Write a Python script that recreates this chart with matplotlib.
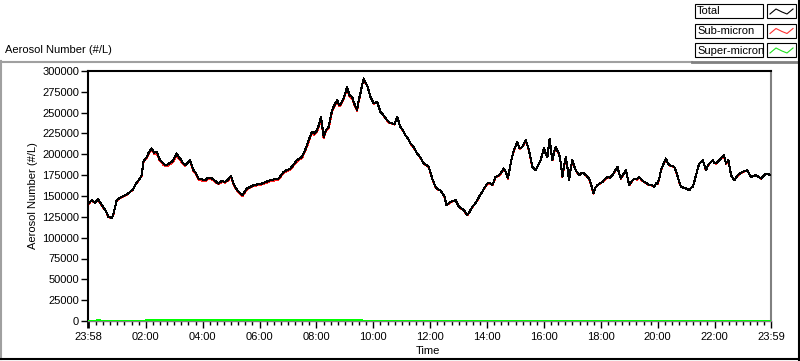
import numpy as np
import matplotlib
matplotlib.use("Agg")
import matplotlib.pyplot as plt
from matplotlib.patches import Rectangle
from matplotlib.lines import Line2D

plt.rcParams['font.family'] = ['Liberation Sans', 'DejaVu Sans']
plt.rcParams['font.size'] = 8

# time in minutes from midnight (23:58 of previous day = -2)
time_min = [-2, 5.8, 12.8, 19.1, 29.7, 36, 40.9, 48.1, 51.5, 58.6, 65.6, 72.6, 80.4, 86.7, 93, 97.3,
            107.9, 111.4, 114.8, 122, 126.9, 132.6, 137.5, 143.2, 148, 153.7, 158.6, 164.3, 169.1, 174.8,
            179.7, 185.4, 189.2, 192.4, 197.7, 202.9, 208.2, 213.5, 220.5, 225.1, 231, 237.8, 245.2, 251.5,
            259.4, 266.4, 273.3, 280.1, 287.5, 293.8, 299.5, 305, 310.7, 315.6, 324, 333.3, 340.3, 347.3,
            356.1, 365, 374.1, 382.5, 391, 400.1, 410.6, 417.4, 424.8, 432.2, 438.9, 449.5, 454.4, 460.1,
            464.9, 470.6, 475.5, 481.2, 485, 489.7, 495.2, 499.8, 505.8, 512.9, 517.8, 523.5, 528.4, 534.1,
            538.9, 544.6, 549.5, 555.2, 559, 565.7, 569.5, 572.7, 576.5, 579.7, 583.3, 586.9, 593.9, 600.8,
            608, 615, 621.3, 629.1, 634, 639.7, 644.6, 650.3, 654.1, 657.2, 662.5, 667.8, 673.1, 678.4,
            684.7, 692.5, 699.5, 706.5, 712.2, 717, 720.6, 724.2, 731.2, 736.5, 741.7, 746, 750.2, 754.4,
            758.6, 762.9, 768.1, 773.4, 777.2, 780.4, 786.1, 790.9, 794.5, 798.1, 803, 808.7, 813.5, 819.2,
            824.1, 829.8, 834.6, 840.4, 845.2, 850.9, 854.7, 857.9, 863.2, 868.5, 875.5, 880.1, 883.9, 887.5,
            891.1, 896.6, 900.2, 903.8, 908.7, 914.4, 918.2, 921.4, 925, 928.3, 931.9, 935.5, 939.3, 942.5,
            947.8, 953.1, 956.7, 960.1, 963.7, 967.3, 970, 972.1, 974.9, 977.8, 981.6, 984.8, 988.4, 991.8,
            995.4, 999, 1002.4, 1006, 1009.6, 1012.9, 1016.5, 1020.1, 1023.5, 1027.1, 1030.7, 1034.1, 1039.8,
            1044.6, 1050.3, 1055.2, 1059.8, 1064.5, 1068.3, 1072.9, 1077.8, 1083.5, 1088.4, 1094.1, 1099,
            1104.7, 1109.5, 1115.2, 1118.6, 1122.2, 1127.5, 1132.8, 1136.4, 1139.8, 1145.5, 1150.4, 1156.1,
            1160.9, 1166.6, 1171.5, 1177.2, 1182.1, 1187.8, 1192.6, 1196.2, 1199.8, 1203.6, 1206.7, 1212,
            1217.3, 1220.9, 1224.3, 1230, 1234.9, 1238.5, 1242.1, 1245.9, 1249, 1254.3, 1259.6, 1263.2,
            1266.6, 1270.2, 1273.8, 1277.6, 1280.8, 1284.4, 1287.8, 1291.3, 1294.9, 1298.3, 1301.9, 1305.5,
            1308.9, 1312.4, 1316, 1319.4, 1323, 1326.6, 1330, 1334.6, 1339.3, 1342, 1344.1, 1349, 1352,
            1354.7, 1358.3, 1361.7, 1365.3, 1368.9, 1373.7, 1379.5, 1384.3, 1388.5, 1392.8, 1397, 1402.3,
            1407.6, 1412.9, 1418.2, 1423.5, 1428.8, 1434.1, 1439]

total = [140000, 145000, 142000, 146000, 137000, 132000, 125000, 123600, 128000, 145000, 148000, 150000,
         152000, 155000, 158000, 163000, 171600, 175000, 191000, 197000, 203000, 207000, 202000, 203000,
         195000, 191000, 188000, 187000, 189000, 191000, 195000, 201000, 197000, 195000, 190000, 187000,
         190000, 193000, 181000, 178000, 171000, 170000, 169000, 172000, 171000, 168000, 165000, 168000,
         167000, 170000, 174000, 165000, 159000, 155000, 151000, 159000, 161000, 163000, 164000, 165000,
         167000, 169000, 170000, 171000, 179000, 181000, 183000, 188000, 193000, 197000, 203000, 211000,
         219000, 227000, 225000, 229000, 235000, 245000, 221000, 229000, 233000, 253000, 259000, 265000,
         259000, 263000, 270000, 281000, 271000, 269000, 262000, 253000, 266000, 273000, 284000, 291000,
         286000, 283000, 269000, 261000, 263000, 251000, 247000, 241000, 238000, 237000, 236000, 245000,
         238000, 233000, 229000, 223000, 219000, 213000, 209000, 201000, 196000, 189000, 187000, 185000,
         178000, 171000, 161000, 158000, 157000, 153000, 149000, 139000, 141000, 143000, 144000, 145000,
         141000, 137000, 135000, 133000, 130000, 127000, 131000, 137000, 140000, 145000, 150000, 155000,
         160000, 165000, 166000, 163000, 168000, 173000, 174000, 177000, 183000, 178000, 171000, 182000,
         193000, 205000, 210000, 215000, 207000, 209000, 213000, 217000, 211000, 205000, 195000, 185000,
         183000, 181000, 187000, 193000, 201000, 207000, 201000, 197000, 210000, 219000, 204000, 193000,
         203000, 209000, 204000, 201000, 190000, 173000, 186000, 197000, 184000, 169000, 183000, 193000,
         186000, 181000, 178000, 175000, 178000, 177000, 174000, 171000, 163000, 153000, 160000, 163000,
         165000, 167000, 170000, 173000, 172000, 175000, 180000, 185000, 177000, 171000, 176000, 181000,
         172000, 163000, 168000, 171000, 170000, 173000, 169000, 167000, 165000, 163000, 163000, 161000,
         165000, 165000, 172000, 181000, 188000, 195000, 190000, 187000, 186000, 185000, 180000, 173000,
         166000, 161000, 160000, 159000, 158000, 157000, 160000, 161000, 168000, 175000, 183000, 189000,
         191000, 193000, 187000, 181000, 186000, 189000, 191000, 193000, 190000, 189000, 191000, 193000,
         196000, 199000, 194000, 189000, 193000, 184000, 175000, 172000, 169000, 172000, 175000, 177000,
         179000, 180000, 181000, 177000, 173000, 174000, 175000, 173000, 171000, 174000, 177000, 176000,
         175000]

# super-micron counts (near zero)
super_time = [-2, 15, 18, 22, 118, 120, 150, 180, 210, 240, 270, 300, 330, 360, 390, 420, 450, 480,
              510, 540, 555, 565, 570, 575, 590, 1439]
super_micron = [300, 300, 1500, 300, 300, 1600, 1200, 1800, 1000, 1400, 900, 1200, 800, 1000, 1500,
                1100, 1300, 1700, 1500, 1200, 1800, 900, 1600, 600, 300, 300]

sub_micron = np.array(total) - np.interp(time_min, super_time, super_micron)

major_ticks = [-2, 120, 240, 360, 480, 600, 720, 840, 960, 1080, 1200, 1320, 1439]
major_labels = ['23:58', '02:00', '04:00', '06:00', '08:00', '10:00', '12:00', '14:00',
                '16:00', '18:00', '20:00', '22:00', '23:59']
minor_ticks = list(range(15, 1439, 15))
y_ticks = list(range(0, 300001, 25000))

W, H = 800, 361
fig = plt.figure(figsize=(W / 100, H / 100), dpi=100)

# overlay for frame / legend in pixel coordinates
ov = fig.add_axes([0, 0, 1, 1], zorder=0)
ov.set_xlim(0, W)
ov.set_ylim(H, 0)
ov.axis('off')
ov.add_line(Line2D([0, 692], [61.5, 61.5], color='#a0a0a0', lw=1.5))
ov.add_line(Line2D([692, 799], [61.5, 61.5], color='#808080', lw=2))
ov.add_line(Line2D([0.8, 0.8], [61, 359], color='#a0a0a0', lw=1.5))
ov.add_line(Line2D([0, 800], [358.5, 358.5], color='black', lw=1.5))
ov.add_line(Line2D([798.8, 798.8], [0, 361], color='black', lw=1.5))
ov.text(5, 50, 'Aerosol Number (#/L)', ha='left', va='center', fontsize=8)

leg_names = ['Total', 'Sub-micron', 'Super-micron']
leg_colors = ['black', '#ff3030', '#20e020']
for i, (name, col) in enumerate(zip(leg_names, leg_colors)):
    top = 4 + i * 19.5
    ov.add_patch(Rectangle((695, top), 68, 14, fill=False, ec='black', lw=0.8))
    ov.add_patch(Rectangle((767, top), 29, 14, fill=False, ec='black', lw=0.8))
    ov.text(697, top + 7.5, name, ha='left', va='center', fontsize=8)
    sx = [770, 776, 782, 787, 793]
    sy = [top + 10, top + 5, top + 8, top + 10, top + 5]
    ov.add_line(Line2D(sx, sy, color=col, lw=0.8))

ax = fig.add_axes([88 / W, (H - 321) / H, (771 - 88) / W, 250 / H], zorder=1)
ax.patch.set_alpha(0)
ax.plot(time_min, sub_micron, color='#ff2020', lw=0.75, zorder=2, antialiased=False)
ax.plot(time_min, total, color='black', lw=0.75, zorder=3, antialiased=False)
ax.plot(super_time, super_micron, color='#00ff00', lw=2, zorder=4, drawstyle='steps-post',
        antialiased=False)

ax.set_xlim(-2, 1439)
ax.set_ylim(0, 300000)
ax.set_xticks(major_ticks)
ax.set_xticklabels(major_labels)
ax.set_xticks(minor_ticks, minor=True)
ax.set_yticks(y_ticks)
ax.set_yticklabels([str(v) for v in y_ticks])
ax.tick_params(axis='x', which='major', length=5, width=1, pad=3, labelsize=8)
ax.tick_params(axis='x', which='minor', length=3, width=1)
ax.tick_params(axis='y', which='major', length=5, width=1, pad=1.5, labelsize=8)
ax.xaxis.get_major_ticks()[0].tick1line.set_markeredgewidth(2)

for s in ['top', 'left']:
    ax.spines[s].set_color('black')
    ax.spines[s].set_linewidth(1.5)
ax.spines['right'].set_color('#808080')
ax.spines['right'].set_linewidth(1.5)
ax.spines['bottom'].set_color('#808080')
ax.spines['bottom'].set_linewidth(1.0)

ax.set_ylabel('Aerosol Number (#/L)', fontsize=8)
ax.yaxis.set_label_coords(-0.073, 0.5)
ax.set_xlabel('Time', fontsize=8)
ax.xaxis.set_label_coords(0.498, -0.1)

fig.savefig('out.png', dpi=100)
